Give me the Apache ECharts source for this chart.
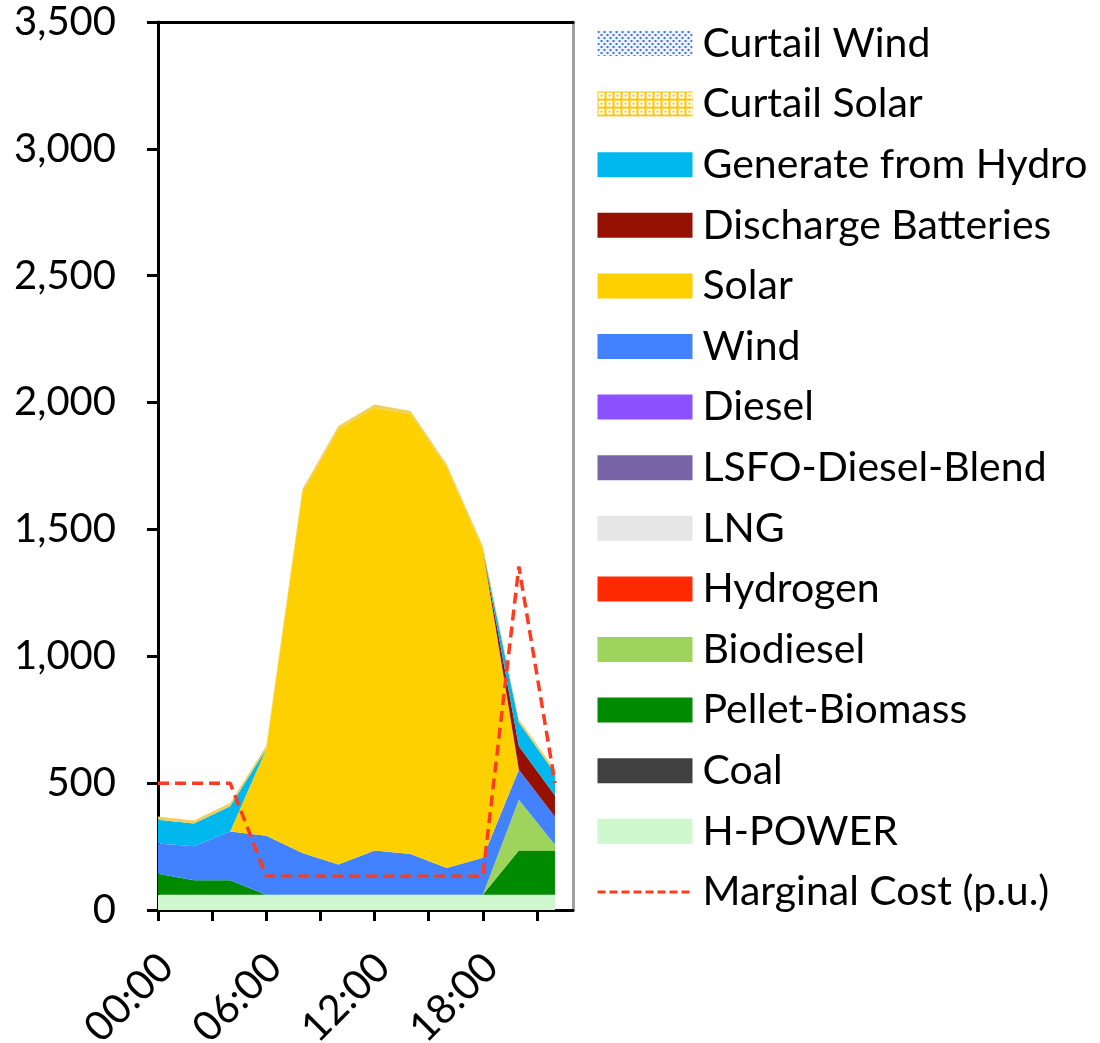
<!DOCTYPE html>
<html><head><meta charset="utf-8">
<script src="https://cdn.jsdelivr.net/npm/echarts@6/dist/echarts.min.js"></script>
<style>html,body{margin:0;padding:0;background:#fff}#c{width:1100px;height:1043px}</style>
</head><body><div id="c"></div>
<script>
// ---- data ----
const hours = [0, 2, 4, 6, 8, 10, 12, 14, 16, 18, 20, 22];
const tickHours = [0, 3, 6, 9, 12, 15, 18, 21];
const labelHours = [0, 6, 12, 18];

const hPower        = [60, 60, 60, 60, 60, 60, 60, 60, 60, 60, 60, 60];
const coal          = [0, 0, 0, 0, 0, 0, 0, 0, 0, 0, 0, 0];
const pelletBiomass = [83, 57, 57, 0, 0, 0, 0, 0, 0, 0, 175, 175];
const biodiesel     = [0, 0, 0, 0, 0, 0, 0, 0, 0, 0, 200, 22];
const hydrogen      = [0, 0, 0, 0, 0, 0, 0, 0, 0, 0, 0, 0];
const lng           = [0, 0, 0, 0, 0, 0, 0, 0, 0, 0, 0, 0];
const lsfoBlend     = [0, 0, 0, 0, 0, 0, 0, 0, 0, 0, 0, 0];
const diesel        = [0, 0, 0, 0, 0, 0, 0, 0, 0, 0, 0, 0];
const wind          = [119, 134, 192, 233, 165, 119, 175, 161, 106, 146, 118, 111];
const solar         = [0, 0, 0, 342, 1421, 1717, 1745, 1734, 1579, 1217, 0, 0];
const batteries     = [0, 0, 0, 0, 0, 0, 0, 0, 0, 0, 92, 83];
const hydro         = [94, 90, 100, 0, 0, 0, 0, 0, 0, 0, 95, 88];
const curtailSolar  = [13, 12, 13, 12, 12, 12, 12, 12, 12, 12, 12, 14];
const curtailWind   = [0, 0, 0, 0, 0, 0, 0, 0, 0, 0, 0, 0];
const marginalCost  = [500, 500, 500, 133, 133, 133, 133, 133, 133, 133, 1354, 500];

const FONT = 'Lato';

function makePattern(w, h, draw) {
  const cv = document.createElement('canvas');
  cv.width = w; cv.height = h;
  draw(cv.getContext('2d'));
  return { image: cv, repeat: 'repeat' };
}
const windPattern = makePattern(6, 6, g => {
  g.fillStyle = '#eef3fd'; g.fillRect(0, 0, 6, 6);
  g.fillStyle = '#3c6fe0';
  g.fillRect(0, 0, 2, 2); g.fillRect(3, 3, 2, 2);
});
const solarPattern = makePattern(8, 8, g => {
  g.fillStyle = '#ffc600'; g.fillRect(0, 0, 8, 8);
  g.fillStyle = '#ffffff';
  g.fillRect(1, 1, 6, 6);
  g.fillStyle = '#ffc600';
  g.fillRect(3, 3, 2, 2);
});

const stackDefs = [
  ['H-POWER', hPower, '#cff8cf'],
  ['Coal', coal, '#404040'],
  ['Pellet-Biomass', pelletBiomass, '#008a00'],
  ['Biodiesel', biodiesel, '#9ed35c'],
  ['Hydrogen', hydrogen, '#ff2a00'],
  ['LNG', lng, '#e6e6e6'],
  ['LSFO-Diesel-Blend', lsfoBlend, '#7a64a8'],
  ['Diesel', diesel, '#8c52ff'],
  ['Wind', wind, '#4282ff'],
  ['Solar', solar, '#ffd000'],
  ['Discharge Batteries', batteries, '#961000'],
  ['Generate from Hydro', hydro, '#00b8ee'],
  ['Curtail Solar', curtailSolar, '#f3cf5a'],
  ['Curtail Wind', curtailWind, '#8fb0f0']
];

// data rows are [value, hour] so the stacked dimension is the value (y)
const series = stackDefs.map(([name, arr, color]) => ({
  name, type: 'line', stack: 'total', symbol: 'none', showSymbol: false,
  color: color,
  encode: { x: 1, y: 0 },
  lineStyle: { width: 0 },
  areaStyle: { color: color, opacity: 1 },
  data: hours.map((h, k) => [arr[k], h]),
  z: 2
}));
series.push({
  name: 'Marginal Cost (p.u.)', type: 'line', symbol: 'none', showSymbol: false,
  color: '#ff3b1f',
  encode: { x: 1, y: 0 },
  lineStyle: { color: '#ff3b1f', width: 3.5, type: [11, 6] },
  data: hours.map((h, k) => [marginalCost[k], h]),
  z: 5
});

const legendOrder = ['Curtail Wind', 'Curtail Solar', 'Generate from Hydro', 'Discharge Batteries',
  'Solar', 'Wind', 'Diesel', 'LSFO-Diesel-Blend', 'LNG', 'Hydrogen', 'Biodiesel',
  'Pellet-Biomass', 'Coal', 'H-POWER'];
const legendData = legendOrder.map(n => {
  const item = { name: n, icon: 'rect' };
  if (n === 'Curtail Wind') item.itemStyle = { color: windPattern };
  if (n === 'Curtail Solar') item.itemStyle = { color: solarPattern };
  return item;
});
legendData.push({ name: 'Marginal Cost (p.u.)', itemStyle: { opacity: 0 },
  lineStyle: { width: 3, type: [8, 4] } });

const pad = v => (v < 10 ? '0' : '') + v + ':00';

const chart = echarts.init(document.getElementById('c'), null, { renderer: 'canvas' });
chart.setOption({
  animation: false,
  backgroundColor: '#fff',
  textStyle: { fontFamily: FONT },
  grid: { left: 158, right: 527, top: 22, bottom: 133, containLabel: false, outerBoundsMode: 'none' },
  legend: {
    orient: 'vertical', left: 596, top: 23, padding: 0,
    itemWidth: 95, itemHeight: 25, itemGap: 19.6,
    selectedMode: false,
    itemStyle: { borderWidth: 0 },
    textStyle: { fontSize: 41, lineHeight: 40, color: '#000', fontFamily: FONT, padding: [0, 0, 0, 5] },
    data: legendData
  },
  xAxis: [{
    type: 'value', min: 0, max: 23, position: 'bottom',
    axisLine: { show: true, onZero: false, lineStyle: { color: '#000', width: 3 } },
    axisTick: { show: true, customValues: tickHours, length: 11, lineStyle: { color: '#000', width: 3 } },
    axisLabel: { customValues: labelHours, rotate: 45, margin: 42, fontSize: 41, lineHeight: 24,
      verticalAlign: 'top', color: '#000', fontFamily: FONT, formatter: v => pad(v) },
    splitLine: { show: false }
  }, {
    type: 'value', min: 0, max: 23, position: 'top',
    axisLine: { show: true, onZero: false, lineStyle: { color: '#000', width: 3 } },
    axisTick: { show: false }, axisLabel: { show: false }, splitLine: { show: false }
  }],
  yAxis: [{
    type: 'value', min: 0, max: 3500, interval: 500, position: 'left',
    axisLine: { show: true, onZero: false, lineStyle: { color: '#000', width: 3 } },
    axisTick: { show: true, length: 11, lineStyle: { color: '#000', width: 3 } },
    axisLabel: { margin: 42, fontSize: 40, color: '#000', fontFamily: FONT,
      formatter: v => v.toLocaleString('en-US') },
    splitLine: { show: false }
  }, {
    type: 'value', min: 0, max: 3500, position: 'right',
    axisLine: { show: true, onZero: false, lineStyle: { color: '#a0a0a0', width: 3 } },
    axisTick: { show: false }, axisLabel: { show: false }, splitLine: { show: false }
  }],
  series: series
});
</script>
</body></html>
